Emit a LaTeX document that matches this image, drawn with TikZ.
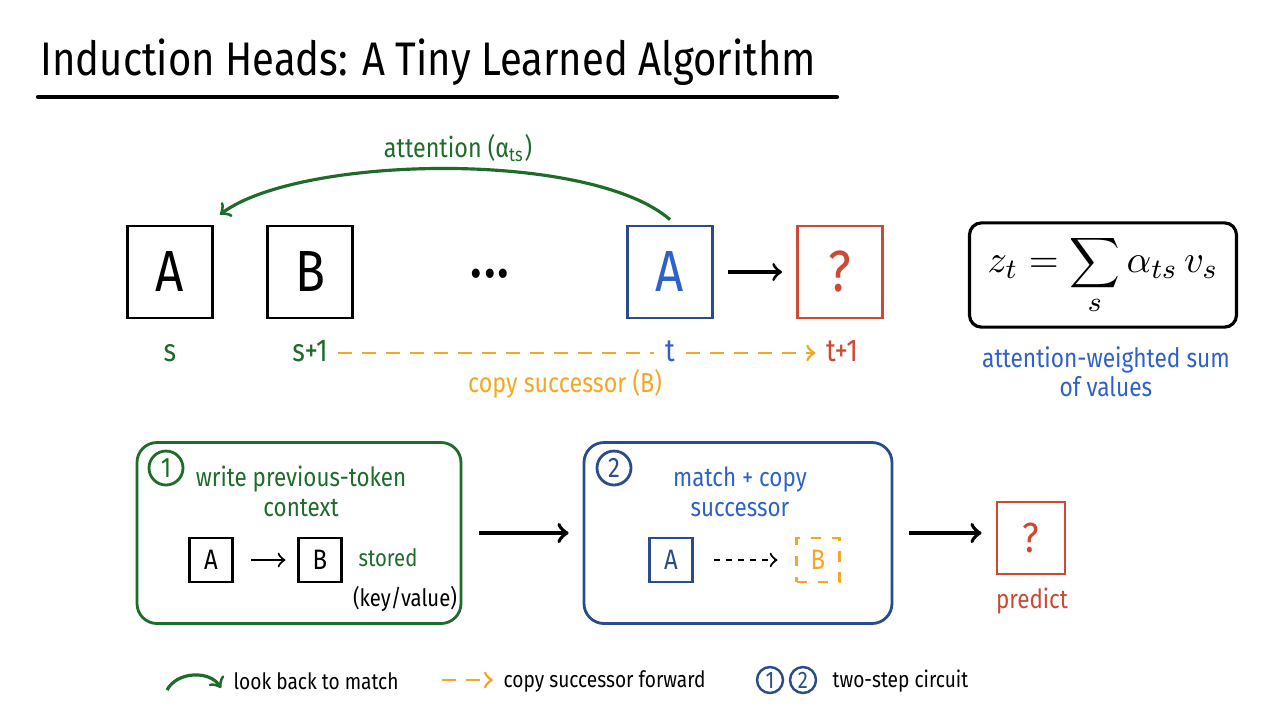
\documentclass[tikz,border=0pt]{standalone}
\usepackage{fontspec}
\setmainfont{Fira Sans}[FakeStretch=0.85]
\usetikzlibrary{positioning}

\definecolor{hgreen}{HTML}{1E6B2A}
\definecolor{hblue}{HTML}{2B4C8C}
\definecolor{lblue}{HTML}{2F62C8}
\definecolor{hred}{HTML}{CC4A33}
\definecolor{horange}{HTML}{F5A623}

\tikzset{
  tok/.style={draw, line width=0.8pt, minimum width=8.5mm, minimum height=9.2mm,
    inner sep=0pt, font=\fontsize{16.5}{18}\selectfont},
  smalltok/.style={draw, line width=0.6pt, minimum width=4.3mm, minimum height=4.4mm,
    inner sep=0pt, font=\fontsize{8}{9}\selectfont},
  lbl/.style={font=\fontsize{9}{10}\selectfont, text height=2.2mm, text depth=0.5mm, inner sep=0pt},
  txt/.style={font=\fontsize{7.5}{8.5}\selectfont, inner sep=0pt},
  note/.style={font=\fontsize{6.8}{8}\selectfont, inner sep=0pt},
  legend/.style={font=\fontsize{6.4}{8}\selectfont, inner sep=0pt, anchor=west},
  stepbox/.style={draw, rounded corners=2mm, line width=0.8pt, minimum height=18.1mm},
  num/.style={draw, circle, line width=0.8pt, minimum size=3.4mm, inner sep=0pt,
    font=\fontsize{8}{9}\selectfont},
  smallnum/.style={num, minimum size=2.6mm, line width=0.7pt, font=\fontsize{6.8}{8}\selectfont},
  copydash/.style={horange, line width=0.8pt, dash pattern=on 1.4mm off 1mm},
}

\begin{document}
\begin{tikzpicture}[x=0.1mm,y=-0.1mm]
\useasboundingbox (0,0) rectangle (1280,720);

% title
\node[anchor=west, inner sep=0pt, font=\fontsize{13.4}{16}\selectfont] (title) at (40,62)
  {Induction Heads: A Tiny Learned Algorithm};
\draw[line width=1.2pt, line cap=round] (38,97) -- (837,97);

% token sequence
\node[tok] (a1) at (170,272) {A};
\node[tok] (b1) at (310,272) {B};
\node[font=\fontsize{19}{19}\selectfont] (dots) at (490,282) {···};
\node[tok, draw=hblue, text=lblue] (at) at (670,272) {A};
\node[tok, draw=hred, text=hred] (q) at (840,272) {?};
\draw[->, line width=0.9pt, shorten <=1.4mm, shorten >=1.4mm] (at) -- (q);

% attention arc
\draw[->, hgreen, line width=0.9pt] ([yshift=0.5mm]at.north)
  .. controls (590,150) and (300,155) .. ([xshift=0.6mm,yshift=1mm]a1.north east);
\node[txt, text=hgreen, font=\fontsize{7.8}{8.5}\selectfont] (attn) at (458,148) {attention (α\textsubscript{ts})};

% position labels
\node[lbl, text=hgreen] (ls) at (170,353) {s};
\node[lbl, text=hgreen] (lsp1) at (310,353) {s+1};
\node[lbl, text=lblue] (lt) at (670,353) {t};
\node[lbl, text=hred] (ltp1) at (842,353) {t+1};
\draw[copydash, shorten <=1mm, shorten >=1mm] (lsp1) -- (lt);
\draw[copydash, ->, shorten <=1mm, shorten >=1mm] (lt) -- (ltp1);
\node[txt, text=horange, font=\fontsize{7.8}{8.5}\selectfont] (copylbl) at (565,384) {copy successor (B)};

% formula
\node[draw, rounded corners=1.2mm, line width=0.9pt, minimum width=26.7mm, minimum height=10.1mm]
  (zbox) at (1103,275) {\fontsize{11}{13}\selectfont$\displaystyle z_t=\sum_s \alpha_{ts}\,v_s$};
\node[txt, text=lblue, align=center, font=\fontsize{7.6}{8.3}\selectfont] (zcap) at (1106,372)
  {attention-weighted sum\\of values};

% step 1
\node[stepbox, draw=hgreen, minimum width=32.4mm] (step1) at (299,533) {};
\node[num, draw=hgreen, text=hgreen] (n1) at (166,468) {1};
\node[txt, text=hgreen, align=center] (s1text) at (301,491) {write previous-token\\context};
\node[smalltok] (sa) at (211,560) {A};
\node[smalltok] (sb) at (320,560) {B};
\draw[->, line width=0.6pt, shorten <=1.7mm, shorten >=1.2mm] (sa) -- (sb);
\node[note, text=hgreen] (stored) at (388,558) {stored};
\node[note] (kv) at (405,599) {(key/value)};

% step 2
\node[stepbox, draw=hblue, minimum width=30.8mm] (step2) at (738,533) {};
\node[num, draw=hblue, text=hblue] (n2) at (614,468) {2};
\node[txt, text=lblue, align=center] (s2text) at (740,492) {match + copy\\successor};
\node[smalltok, draw=hblue, text=hblue] (sa2) at (671,560) {A};
\node[smalltok, draw=horange, dashed, text=horange] (sb2) at (818,560) {B};
\draw[->, line width=0.6pt, dash pattern=on 0.6mm off 0.6mm, shorten <=2mm, shorten >=1.8mm] (sa2) -- (sb2);

\draw[->, line width=1.1pt, shorten <=1.7mm, shorten >=1.4mm] (step1) -- (step2);

% prediction
\node[tok, draw=hred, text=hred, minimum width=6.8mm, minimum height=7.2mm,
  font=\fontsize{12}{14}\selectfont] (pq) at (1031,538) {?};
\draw[->, line width=1.1pt, shorten <=1.6mm, shorten >=1.4mm] (step2.east) -- (step2.east -| pq.west);
\node[txt, text=hred] (pred) at (1032,601) {predict};

% legend
\coordinate (lg1a) at (167,690);
\coordinate (lg1b) at (221,688);
\draw[->, hgreen, line width=0.9pt] (lg1a) to[bend left=60] (lg1b);
\node[legend] (lg1) at (233,681) {look back to match};
\coordinate (lg2a) at (442,680);
\coordinate (lg2b) at (493,680);
\draw[copydash, ->] (lg2a) -- (lg2b);
\node[legend] (lg2) at (503,681) {copy successor forward};
\node[smallnum, draw=hblue, text=hblue] (lc1) at (770,680) {1};
\node[smallnum, draw=hblue, text=hblue] (lc2) at (803,680) {2};
\node[legend] (lg3) at (832,681) {two-step circuit};
\end{tikzpicture}
\end{document}
